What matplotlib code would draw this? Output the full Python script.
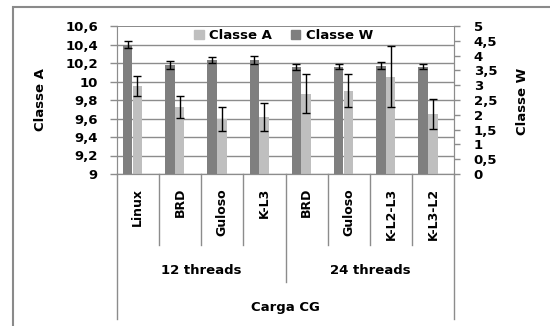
import numpy as np
import matplotlib
matplotlib.use('Agg')
import matplotlib.pyplot as plt
from matplotlib.patches import Patch, Rectangle

# data
cats = ["Linux", "BRD", "Guloso", "K-L3", "BRD", "Guloso", "K-L2-L3", "K-L3-L2"]
groups = ["12 threads", "24 threads"]
classe_a = [9.95, 9.72, 9.59, 9.62, 9.87, 9.90, 10.05, 9.65]
classe_a_err = [0.11, 0.12, 0.13, 0.15, 0.21, 0.18, 0.33, 0.16]
classe_w = [4.37, 3.68, 3.86, 3.84, 3.63, 3.62, 3.66, 3.62]
classe_w_err = [0.12, 0.13, 0.10, 0.14, 0.10, 0.08, 0.12, 0.08]

plt.rcParams['font.family'] = ['DejaVu Sans']
plt.rcParams['font.weight'] = 'bold'

dark = '#7f7f7f'
light = '#bfbfbf'
grid = '#8c8c8c'

fig = plt.figure(figsize=(5.5, 3.26), dpi=100)
W, H = 550.0, 326.0
ax = fig.add_axes([116.7 / W, 1 - 174 / H, 337.6 / W, 148 / H])
ax2 = ax.twinx()

x = np.arange(len(cats))
bw = 0.225

ax.bar(x - 0.01, classe_a, bw, bottom=0, color=light, zorder=2)
ax.errorbar(x - 0.01, classe_a, yerr=classe_a_err, fmt='none', ecolor='black',
            elinewidth=1, capsize=3, capthick=1, zorder=3)
ax2.bar(x - 0.24, classe_w, bw, color=dark, zorder=2)
ax2.errorbar(x - 0.24, classe_w, yerr=classe_w_err, fmt='none', ecolor='black',
             elinewidth=1, capsize=3, capthick=1, zorder=3)

ax.set_xlim(-0.5, len(cats) - 0.5)
ax.set_ylim(9, 10.6)
ax2.set_ylim(0, 5)

yt = np.arange(9, 10.61, 0.2)
ax.set_yticks(yt)
ax.set_yticklabels([("%g" % round(v, 1)).replace('.', ',') for v in yt])
yt2 = np.arange(0, 5.01, 0.5)
ax2.set_yticks(yt2)
ax2.set_yticklabels([("%g" % v).replace('.', ',') for v in yt2])

ax.yaxis.grid(True, color=grid, lw=1, zorder=0)
ax.set_axisbelow(True)
ax.set_xticks([])

for a in (ax, ax2):
    for s in a.spines.values():
        s.set_color(grid)
    a.spines['top'].set_visible(False)
ax.tick_params(axis='y', length=5, width=1, color=grid, pad=8.5, labelsize=9.5)
ax2.tick_params(axis='y', length=4, width=1, color=grid, pad=10, labelsize=9.5)

ax.set_ylabel("Classe A", fontsize=9.5, fontweight='bold', labelpad=6)
ax2.set_ylabel("Classe W", fontsize=9.5, fontweight='bold', rotation=90, labelpad=8)
ax.yaxis.set_label_coords(-70 / 337.6, 0.5)
ax2.yaxis.set_label_coords(1 + 62 / 337.6, 0.49)

# multi-level category axis
tr = ax.get_xaxis_transform()
px = 1 / 148.0
for i, c in enumerate(cats):
    ax.text(i, -14 * px, c, rotation=90, ha='center', va='top', transform=tr,
            fontsize=9, fontweight='bold', clip_on=False)
for b in [0.5, 1.5, 2.5, 4.5, 5.5, 6.5]:
    ax.plot([b, b], [0, -71 * px], color=grid, lw=1, transform=tr, clip_on=False)
ax.plot([3.5, 3.5], [0, -108 * px], color=grid, lw=1, transform=tr, clip_on=False)
for b in [-0.5, len(cats) - 0.5]:
    ax.plot([b, b], [0, -145 * px], color=grid, lw=1, transform=tr, clip_on=False)
ax.text(1.5, -96 * px, groups[0], ha='center', va='center', transform=tr,
        fontsize=9.5, fontweight='bold')
ax.text(5.5, -96 * px, groups[1], ha='center', va='center', transform=tr,
        fontsize=9.5, fontweight='bold')
ax.text(3.5, -133 * px, "Carga CG", ha='center', va='center', transform=tr,
        fontsize=9.5, fontweight='bold')

# legend sits in a white band between the top two gridlines
ax2.fill_between([0.0, 1.0], 1 - 17.5 * px, 1 - 0.5 * px, transform=ax2.transAxes,
                 color='white', zorder=1, lw=0)
handles = [Patch(color=light, label="Classe A"), Patch(color=dark, label="Classe W")]
leg = ax2.legend(handles=handles, loc='center', ncol=2, frameon=False,
                 bbox_to_anchor=(0.5 - 2 / 337.6, 1 - 9.5 * px),
                 handlelength=0.75, handleheight=0.75, handletextpad=0.4,
                 columnspacing=1.4, borderpad=0.1,
                 prop={'weight': 'bold', 'size': 9.5})

# chart border
fig.patches.append(Rectangle((12.5 / W, -0.1), 1.2, 1.1 - 6.5 / H, transform=fig.transFigure,
                             fill=False, edgecolor='#8a8a8a', lw=1.5))

fig.savefig("out.png", dpi=100)
